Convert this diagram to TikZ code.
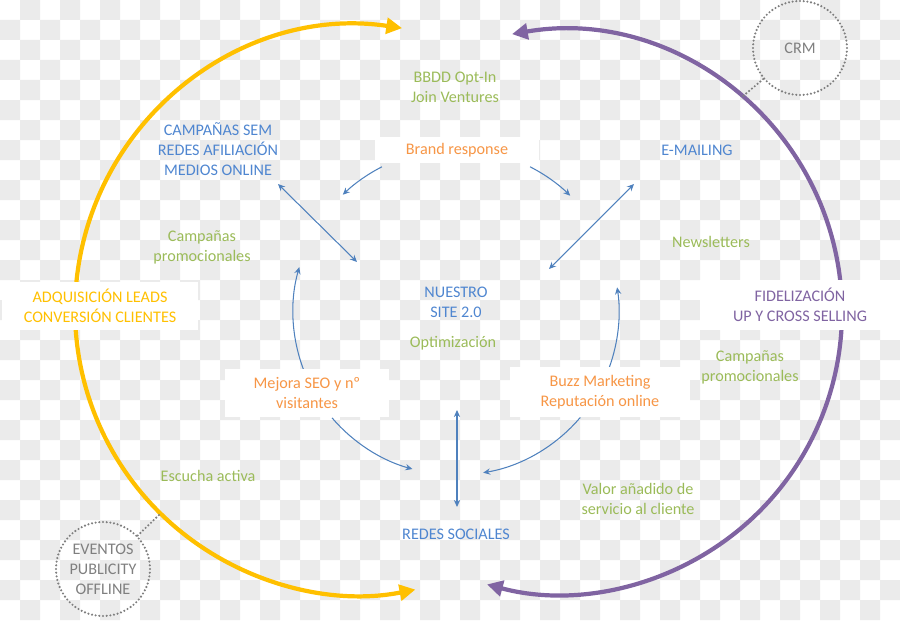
\documentclass[tikz,border=0pt]{standalone}
\usepackage{fontspec}
\setmainfont{Carlito}
\usetikzlibrary{arrows.meta,calc}
\definecolor{amarillo}{HTML}{FFC000}
\definecolor{morado}{HTML}{8064A2}
\definecolor{azul}{HTML}{4F81BD}
\definecolor{azultxt}{HTML}{4F86D0}
\definecolor{naranja}{HTML}{F79646}
\definecolor{verde}{HTML}{9BBB59}
\definecolor{gris}{HTML}{7F7F7F}
\definecolor{cuadro}{HTML}{EBEBEB}
\begin{document}
\begin{tikzpicture}[x=0.02cm, y=0.02cm,
    every node/.style={font=\fontsize{9.2}{11.3}\selectfont, align=center, inner sep=0pt},
    caja/.style={fill=white, text=naranja},
    flecha/.style={azul, line width=0.6pt, -{Stealth[length=4pt,width=3.6pt]}},
    doble/.style={flecha, {Stealth[length=4pt,width=3.6pt]}-{Stealth[length=4pt,width=3.6pt]}},
    arco/.style={line width=2.4pt, {Triangle[length=9pt,width=9pt]}-{Triangle[length=9pt,width=9pt]}},
    punteado/.style={draw=gris, line width=1.35pt, dash pattern=on 0pt off 2.1pt, line cap=round},
    circulo/.style={circle, punteado, text=gris, minimum size=1.88cm}]
    \useasboundingbox (0,0) rectangle (900,620);

    % 背景
    \fill[cuadro] \foreach \i in {1,3,...,43} {\foreach \j in {0,2,...,30} {({20*\i},{600-20*\j}) rectangle ++(20,20)}};
    \fill[cuadro] \foreach \i in {0,2,...,44} {\foreach \j in {1,3,...,29} {({20*\i},{600-20*\j}) rectangle ++(20,20)}};

    % 大圆弧
    \coordinate (cy) at (360,310);
    \coordinate (cm) at (560,308);
    \draw[arco, amarillo] ($(cy)+(81.5:285)$) arc[start angle=81.5, end angle=281.2, radius=285];
    \draw[arco, morado] ($(cm)+(99.8:282)$) arc[start angle=99.8, end angle=-105, radius=282];

    % 内圈箭头
    \coordinate (ci) at (456,308);
    \draw[flecha] ($(ci)+(117:163)$) arc[start angle=117, end angle=134, radius=163];
    \draw[flecha] ($(ci)+(63:163)$) arc[start angle=63, end angle=45.5, radius=163];
    \draw[flecha] ($(ci)+(200.5:163)$) arc[start angle=200.5, end angle=164, radius=163];
    \draw[flecha] ($(ci)+(-20:163)$) arc[start angle=-20, end angle=8.7, radius=163];
    \draw[flecha] ($(ci)+(220.5:163)$) arc[start angle=220.5, end angle=254.5, radius=163];
    \draw[flecha] ($(ci)+(-40.3:163)$) arc[start angle=-40.3, end angle=-80.4, radius=163];

    % 双向箭头
    \coordinate (semA) at (278,436);
    \coordinate (semB) at (357,358);
    \coordinate (mailA) at (634,436);
    \coordinate (mailB) at (549,351);
    \coordinate (redA) at (457,210);
    \coordinate (redB) at (457,113);
    \draw[doble] (semA) -- (semB);
    \draw[doble] (mailA) -- (mailB);
    \draw[doble] (redA) -- (redB);

    % 白框
    \node[caja, minimum width=3.3cm, minimum height=0.54cm] (brand) at (457,470) {Brand response};
    \node[caja, minimum width=3.3cm, minimum height=0.98cm] (mejora) at (307,227) {Mejora SEO y nº\\visitantes};
    \node[caja, minimum width=3.62cm, minimum height=1cm] (buzz) at (600,228) {Buzz Marketing\\Reputación online};
    \node[caja, text=amarillo, minimum width=3.92cm, minimum height=0.98cm] (adq) at (100,314) {ADQUISICIÓN LEADS\\CONVERSIÓN CLIENTES};
    \node[caja, text=morado, minimum width=4cm, minimum height=1cm] (fidel) at (800,315) {FIDELIZACIÓN\\UP Y CROSS SELLING};

    % 文字
    \node[text=verde] (bbdd) at (455,533) {BBDD Opt-In\\Join Ventures};
    \node[text=azultxt] (sem) at (218,471) {CAMPAÑAS SEM\\REDES AFILIACIÓN\\MEDIOS ONLINE};
    \node[text=azultxt] (mailing) at (697,470) {E-MAILING};
    \node[text=verde] (promoizq) at (202,373) {Campañas\\promocionales};
    \node[text=verde] (news) at (711,378) {Newsletters};
    \node[text=azultxt] (site) at (456,318) {NUESTRO\\SITE 2.0};
    \node[text=verde] (optim) at (453,277) {Optimización};
    \node[text=verde] (promoder) at (750,253) {Campañas\\promocionales};
    \node[text=verde] (escucha) at (208,144) {Escucha activa};
    \node[text=verde] (valor) at (638,121) {Valor añadido de\\servicio al cliente};
    \node[text=azultxt] (redes) at (456,86) {REDES SOCIALES};

    % 虚线圆
    \node[circulo] (crm) at (800,572) {CRM};
    \node[circulo] (eventos) at (103,51) {EVENTOS\\PUBLICITY\\OFFLINE};
    \coordinate (crmpie) at (742,523);
    \coordinate (evpie) at (159,105);
    \draw[punteado] (crm) -- (crmpie);
    \draw[punteado] (eventos) -- (evpie);
\end{tikzpicture}
\end{document}
